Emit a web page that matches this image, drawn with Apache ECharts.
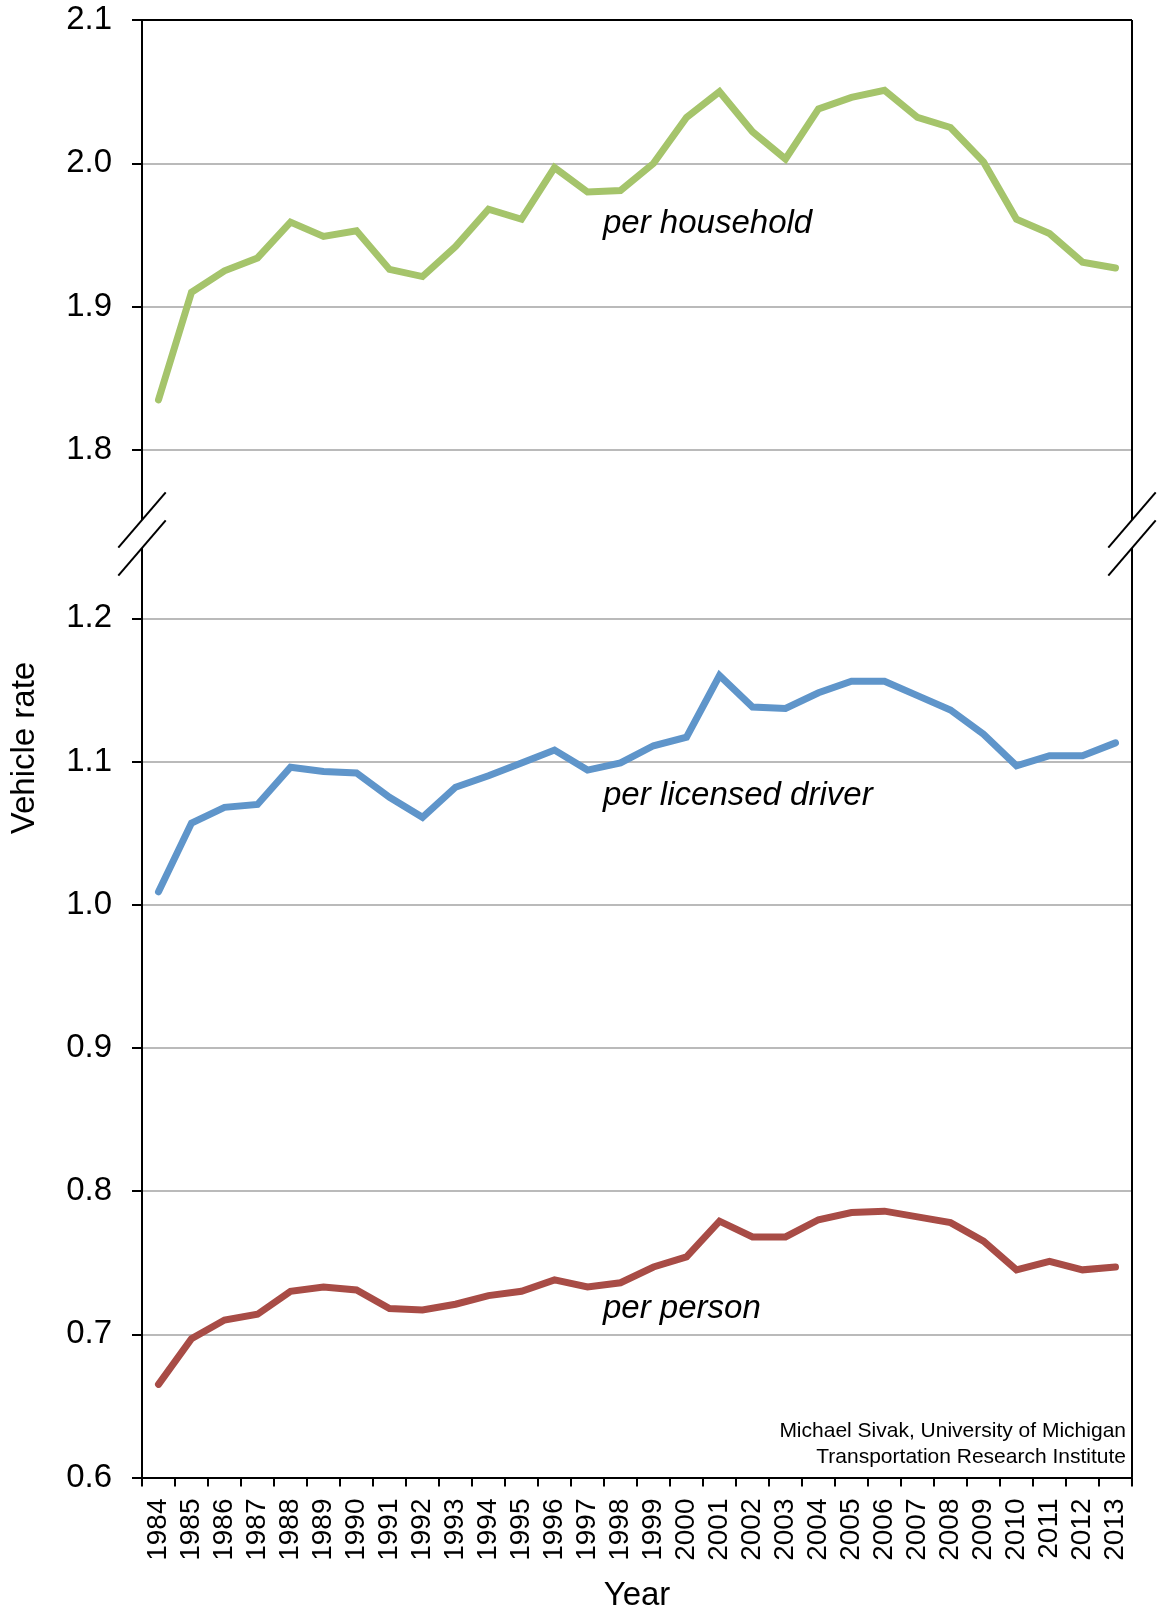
<!DOCTYPE html>
<html>
<head>
<meta charset="utf-8">
<title>Vehicle rate</title>
<script src="https://cdn.jsdelivr.net/npm/echarts@6/dist/echarts.min.js"></script>
<style>
html, body { margin: 0; padding: 0; background: #fff; }
#main { width: 1159px; height: 1613px; }
</style>
</head>
<body>
<div id="main"></div>
<script>
// 数据
var years = ['1984', '1985', '1986', '1987', '1988', '1989', '1990', '1991', '1992', '1993',
	'1994', '1995', '1996', '1997', '1998', '1999', '2000', '2001', '2002', '2003',
	'2004', '2005', '2006', '2007', '2008', '2009', '2010', '2011', '2012', '2013'];
var perHousehold = [1.835, 1.910, 1.925, 1.934, 1.959, 1.949, 1.953, 1.926, 1.921, 1.942,
	1.968, 1.961, 1.997, 1.980, 1.981, 2.000, 2.032, 2.050, 2.022, 2.003,
	2.038, 2.046, 2.051, 2.032, 2.025, 2.001, 1.961, 1.951, 1.931, 1.927];
var perDriver = [1.009, 1.057, 1.068, 1.070, 1.096, 1.093, 1.092, 1.075, 1.061, 1.082,
	1.090, 1.099, 1.108, 1.094, 1.099, 1.111, 1.117, 1.160, 1.138, 1.137,
	1.148, 1.156, 1.156, 1.146, 1.136, 1.119, 1.097, 1.104, 1.104, 1.113];
var perPerson = [0.665, 0.697, 0.710, 0.714, 0.730, 0.733, 0.731, 0.718, 0.717, 0.721,
	0.727, 0.730, 0.738, 0.733, 0.736, 0.747, 0.754, 0.779, 0.768, 0.768,
	0.780, 0.785, 0.786, 0.782, 0.778, 0.765, 0.745, 0.751, 0.745, 0.747];
var upperRange = [1.8, 2.1];
var lowerRange = [0.6, 1.2];

// 布局
var L = 142, R = 1132, T = 20, T2 = 618.3, B = 1477.5;
var UPPER_H = 430;
var BREAK_A = 520, BREAK_B = 548;
var FONT = 'Liberation Sans, Arial, Helvetica, sans-serif';

function frameLine(x1, y1, x2, y2) {
	return {
		type: 'line',
		z: 100,
		shape: { x1: x1, y1: y1, x2: x2, y2: y2 },
		style: { stroke: '#000', lineWidth: 2 }
	};
}
function slash(x, y) {
	return frameLine(x - 23.7, y + 27.6, x + 23.7, y - 27.6);
}
function label(text, x, y, size, opts) {
	opts = opts || {};
	return {
		type: 'text',
		z: 100,
		x: x,
		y: y,
		rotation: opts.rotation || 0,
		style: {
			text: text,
			font: (opts.italic ? 'italic ' : '') + size + 'px ' + FONT,
			fill: '#000',
			textAlign: opts.align || 'left',
			textVerticalAlign: 'middle'
		}
	};
}

var yAxisCommon = {
	type: 'value',
	interval: 0.1,
	axisLine: { show: false },
	axisTick: { show: true, inside: false, length: 10, lineStyle: { color: '#000', width: 2 } },
	axisLabel: {
		color: '#000', fontSize: 33, fontFamily: FONT, margin: 30,
		formatter: function (v) { return v.toFixed(1); }
	},
	splitLine: { show: true, lineStyle: { color: '#a3a3a3', width: 1.5 } }
};

var lineCommon = {
	type: 'line',
	symbol: 'none',
	showSymbol: false,
	silent: true
};
function lineStyle(color) {
	return { color: color, width: 7, cap: 'round', join: 'miter' };
}

var myChart = echarts.init(document.getElementById('main'), null, { renderer: 'canvas' });
myChart.setOption({
	animation: false,
	backgroundColor: '#fff',
	grid: [
		{ left: L, top: T, width: R - L, height: UPPER_H, outerBoundsMode: 'none', containLabel: false },
		{ left: L, top: T2, width: R - L, height: B - T2, outerBoundsMode: 'none', containLabel: false }
	],
	xAxis: [
		{ type: 'category', gridIndex: 0, data: years, show: false },
		{
			type: 'category',
			gridIndex: 1,
			data: years,
			boundaryGap: true,
			name: 'Year',
			nameLocation: 'middle',
			nameGap: 102,
			nameTextStyle: { color: '#000', fontSize: 33, fontFamily: FONT },
			axisLine: { show: true, lineStyle: { color: '#000', width: 2 } },
			axisTick: { show: true, inside: false, length: 9, alignWithLabel: false, lineStyle: { color: '#000', width: 2 } },
			axisLabel: { interval: 0, rotate: 90, color: '#000', fontSize: 28, fontFamily: FONT, margin: 21 },
			splitLine: { show: false }
		}
	],
	yAxis: [
		Object.assign({}, yAxisCommon, { gridIndex: 0, min: upperRange[0], max: upperRange[1] }),
		Object.assign({}, yAxisCommon, { gridIndex: 1, min: lowerRange[0], max: lowerRange[1] })
	],
	series: [
		Object.assign({}, lineCommon, { name: 'per household', xAxisIndex: 0, yAxisIndex: 0, data: perHousehold, lineStyle: lineStyle('#a5c46b') }),
		Object.assign({}, lineCommon, { name: 'per licensed driver', xAxisIndex: 1, yAxisIndex: 1, data: perDriver, lineStyle: lineStyle('#5f95ca') }),
		Object.assign({}, lineCommon, { name: 'per person', xAxisIndex: 1, yAxisIndex: 1, data: perPerson, lineStyle: lineStyle('#a84c46') })
	],
	graphic: {
		elements: [
			// 外框和断轴
			frameLine(L, T, R, T),
			frameLine(L, T, L, BREAK_A),
			frameLine(L, BREAK_B, L, B),
			frameLine(R, T, R, BREAK_A),
			frameLine(R, BREAK_B, R, B),
			slash(L, BREAK_A), slash(L, BREAK_B),
			slash(R, BREAK_A), slash(R, BREAK_B),
			// 文字
			label('Vehicle rate', 25, 748, 33, { rotation: Math.PI / 2, align: 'center' }),
			label('per household', 603, 224, 33, { italic: true }),
			label('per licensed driver', 603, 796, 33, { italic: true }),
			label('per person', 603, 1309, 33, { italic: true }),
			label('Michael Sivak, University of Michigan', 1126, 1431, 21, { align: 'right' }),
			label('Transportation Research Institute', 1126, 1457, 21, { align: 'right' })
		]
	}
});
</script>
</body>
</html>
